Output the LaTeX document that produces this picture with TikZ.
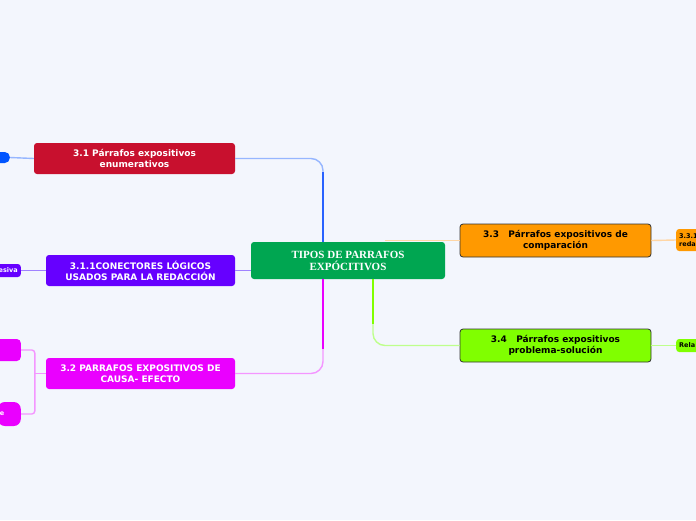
\documentclass[tikz,border=0pt]{standalone}
\usepackage{fontspec}
\setmainfont{DejaVu Sans}
\newfontfamily\serifb{Liberation Serif}
\usetikzlibrary{calc}
\definecolor{bg}{RGB}{243,246,253}
\definecolor{cgreen}{RGB}{0,166,81}
\definecolor{ccrim}{RGB}{200,16,46}
\definecolor{cpurp}{RGB}{102,0,255}
\definecolor{cmag}{RGB}{234,0,255}
\definecolor{corange}{RGB}{255,153,0}
\definecolor{clime}{RGB}{128,255,0}
\definecolor{cblue}{RGB}{0,85,255}
\definecolor{lblue}{RGB}{41,98,255}
\definecolor{lbluel}{RGB}{150,182,255}
\definecolor{lpurp}{RGB}{160,130,255}
\definecolor{lmagl}{RGB}{244,150,255}
\definecolor{lorange}{RGB}{255,214,165}
\definecolor{llimel}{RGB}{190,255,140}
\tikzset{
  mainbox/.style={rectangle, rounded corners=3pt, text=white, font=\bfseries\fontsize{9}{11}\selectfont, align=center, inner sep=0pt},
  darkbox/.style={mainbox, draw={rgb,255:red,50;green,50;blue,50}, line width=0.8pt, text=black},
  leafbox/.style={rectangle, rounded corners=4pt, inner xsep=3pt, inner ysep=0pt, font=\bfseries\fontsize{6.5}{7.5}\selectfont, text=white},
  conn/.style={line width=1.4pt}
}
\begin{document}
\begin{tikzpicture}[x=1pt,y=-1pt]
\fill[bg] (0,0) rectangle (696,520);
\useasboundingbox (0,0) rectangle (696,520);

% main nodes
\node[mainbox, fill=cgreen, minimum width=194pt, minimum height=37pt, font=\serifb\bfseries\fontsize{11}{12}\selectfont] (ctr) at (348,260.5) {TIPOS DE PARRAFOS\\EXPÓCITIVOS};
\node[mainbox, fill=ccrim, minimum width=201pt, minimum height=31pt] (n31) at (134.5,158.5) {3.1 Párrafos expositivos\\enumerativos};
\node[mainbox, fill=cpurp, minimum width=189pt, minimum height=31pt] (n311) at (140.5,270.5) {3.1.1CONECTORES LÓGICOS\\USADOS PARA LA REDACCIÓN};
\node[mainbox, fill=cmag, minimum width=189pt, minimum height=31pt] (n32) at (140.5,373.5) {3.2 PARRAFOS EXPOSITIVOS DE\\CAUSA- EFECTO};
\node[darkbox, fill=corange, minimum width=191pt, minimum height=33pt] (n33) at (555.5,240.5) {3.3\ \ \ Párrafos expositivos de\\comparación};
\node[darkbox, fill=clime, minimum width=191pt, minimum height=33pt] (n34) at (555.5,345.5) {3.4\ \ \ Párrafos expositivos\\problema-solución};

% leaf nodes
\node[leafbox, fill=cblue, minimum width=30pt, minimum height=11pt, anchor=east, rounded corners=5pt] (lb) at (10,157.5) {};
\node[leafbox, fill=cpurp, minimum height=13pt, anchor=east, text width=30pt, align=right, rounded corners=3pt] (le) at (21,270.5) {esiva};
\node[leafbox, fill=cmag, minimum height=22pt, minimum width=40pt, anchor=east] (lm1) at (21,350) {};
\node[leafbox, fill=cmag, minimum height=24pt, anchor=east, text width=19pt, inner xsep=2pt, align=left, rounded corners=7pt] (lm2) at (21,414) {e};
\node[leafbox, fill=corange, minimum height=22pt, anchor=west, text width=40pt, align=left, text=black, rounded corners=3pt] (lo) at (676,240) {3.3.1\\reda};
\node[leafbox, fill=clime, minimum height=13pt, anchor=west, text width=40pt, align=left, text=black, rounded corners=3pt] (ll) at (676,345.5) {Rela};

% connectors from centre
\draw[conn, lbluel, rounded corners=12pt] (n31.east) -| ([xshift=-25pt]ctr.north);
\draw[conn, lblue] ([xshift=-25pt]ctr.north) -- ++(0,-70);
\draw[conn, lpurp, line width=1pt] (n311.east) -- (n311.east -| ctr.west);
\draw[conn, lmagl, rounded corners=12pt] (n32.east) -| ([xshift=-25pt]ctr.south);
\draw[conn, cmag] ([xshift=-25pt]ctr.south) -- ++(0,70);
\coordinate (oc) at ([xshift=37pt]ctr.north);
\draw[conn, lorange] (n33.west) -- (n33.west -| oc);
\draw[conn, llimel, rounded corners=12pt] (n34.west) -| ([xshift=25pt]ctr.south);
\draw[conn, clime] ([xshift=25pt]ctr.south) -- ++(0,45);

% leaf connectors
\draw[conn, lbluel] (lb.east) -- (n31.west);
\draw[line width=1pt, lpurp] (le.east) -- (n311.west);
\coordinate (mj) at ([xshift=-11pt]n32.west);
\draw[conn, lmagl] (mj) -- (n32.west);
\draw[conn, lmagl, rounded corners=3pt] (lm1.east) -| (mj) |- (lm2.east);
\draw[conn, lorange] (n33.east) -- (lo.west);
\draw[conn, llimel] (n34.east) -- (ll.west);
\end{tikzpicture}
\end{document}
